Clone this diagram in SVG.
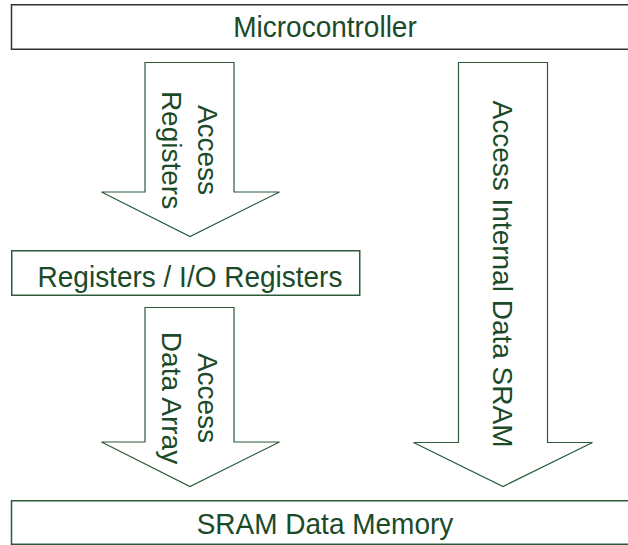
<svg xmlns="http://www.w3.org/2000/svg" width="628" height="545" viewBox="0 0 628 545">
  <style>
    .label { font-family: "Liberation Sans", Arial, sans-serif; font-size: 28px; fill: #1b4a29; }
    .box { fill: #ffffff; stroke: #2d5a3a; stroke-width: 1.5; }
    .box-dark { fill: #ffffff; stroke: #333333; stroke-width: 1.5; }
    .arrow { fill: #ffffff; stroke: #2d5a3a; stroke-width: 1.2; stroke-linejoin: miter; }
  </style>
  <rect width="628" height="545" fill="#ffffff"/>

  <!-- block arrows between layers -->
  <g id="connectors">
    <g id="arrow-access-registers">
      <polygon class="arrow" points="145,62.5 234,62.5 234,192 279.5,192 190,236.5 101.5,192 145,192"/>
      <g transform="translate(198.3,150) rotate(90)">
        <text class="label" text-anchor="middle" x="0" y="0">Access</text>
        <text class="label" text-anchor="middle" x="0" y="36.7">Registers</text>
      </g>
    </g>
    <g id="arrow-access-data-array">
      <polygon class="arrow" points="145,307.5 234,307.5 234,442 279.5,442 190,486.5 101.5,442 145,442"/>
      <g transform="translate(198.3,398) rotate(90)">
        <text class="label" text-anchor="middle" x="0" y="0">Access</text>
        <text class="label" text-anchor="middle" x="0" y="36.7">Data Array</text>
      </g>
    </g>
    <g id="arrow-access-sram">
      <polygon class="arrow" points="458.5,62.5 547.5,62.5 547.5,442.5 592.5,442.5 503,486.5 413.5,442.5 458.5,442.5"/>
      <g transform="translate(493,274) rotate(90)">
        <text class="label" text-anchor="middle" x="0" y="0">Access Internal Data SRAM</text>
      </g>
    </g>
  </g>

  <!-- box labels are drawn slightly taller than wide -->
  <g id="microcontroller">
    <rect class="box-dark" x="11.5" y="4.75" width="630" height="44.5"/>
    <text class="label" text-anchor="middle" transform="translate(325,36.7) scale(1,1.085)">Microcontroller</text>
  </g>

  <g id="registers">
    <rect class="box" x="11.75" y="250.75" width="348" height="44.5"/>
    <text class="label" text-anchor="middle" transform="translate(190,286.7) scale(1,1.085)">Registers / I/O Registers</text>
  </g>

  <g id="sram-data-memory">
    <rect class="box" x="11.5" y="500.75" width="630" height="43.5"/>
    <text class="label" text-anchor="middle" transform="translate(325,533.5) scale(1,1.085)">SRAM Data Memory</text>
  </g>
</svg>
